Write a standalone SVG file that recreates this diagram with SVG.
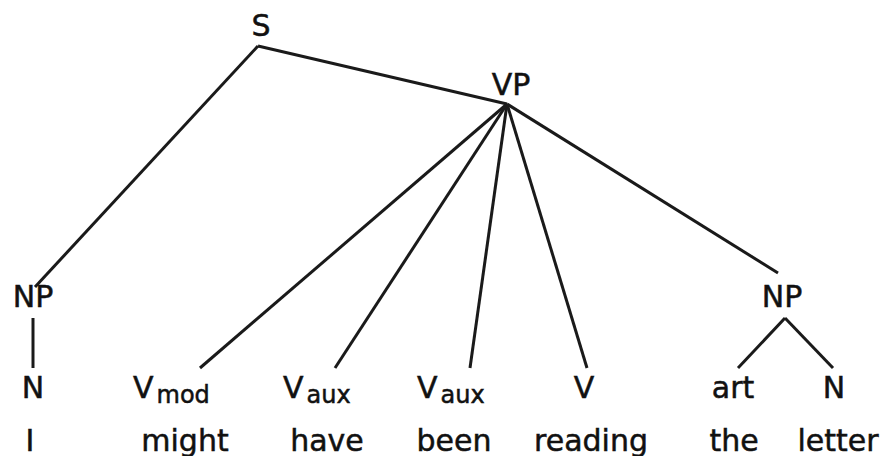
<svg xmlns="http://www.w3.org/2000/svg" width="883" height="456" viewBox="0 0 883 456">
<style>
text{font-family:"DejaVu Sans","Liberation Sans",sans-serif;font-size:30px;fill:#111;stroke:#111;stroke-width:0.5}
.m{text-anchor:middle}
.sub{font-size:24px}
.e{stroke:#1a1a1a;stroke-width:3;fill:none;stroke-linecap:butt}
</style>
<rect width="883" height="456" fill="#fff"/>
<g id="edges">
<line class="e" x1="258" y1="46" x2="507" y2="104"/>
<line class="e" x1="258" y1="46" x2="35" y2="287"/>
<line class="e" x1="33" y1="318" x2="33" y2="368"/>
<line class="e" x1="507" y1="104" x2="200" y2="368"/>
<line class="e" x1="507" y1="104" x2="335" y2="368"/>
<line class="e" x1="507" y1="104" x2="470" y2="368"/>
<line class="e" x1="507" y1="104" x2="587" y2="368"/>
<line class="e" x1="507" y1="104" x2="778" y2="273"/>
<line class="e" x1="785" y1="318" x2="738" y2="368"/>
<line class="e" x1="785" y1="318" x2="833" y2="368"/>
</g>
<g id="S"><text class="m" x="261" y="36">S</text></g>
<g id="VP"><text class="m" x="511" y="95">VP</text></g>
<g id="NP1"><text class="m" x="33" y="307">NP</text></g>
<g id="N1"><text class="m" x="33" y="398">N</text></g>
<g id="Vmod"><text x="133" y="398">V<tspan class="sub" dx="3" dy="5">mod</tspan></text></g>
<g id="Vaux1"><text x="283" y="398">V<tspan class="sub" dx="3" dy="5">aux</tspan></text></g>
<g id="Vaux2"><text x="417" y="398">V<tspan class="sub" dx="3" dy="5">aux</tspan></text></g>
<g id="V"><text class="m" x="584" y="398">V</text></g>
<g id="NP2"><text class="m" x="782" y="307">NP</text></g>
<g id="art"><text class="m" x="733" y="398">art</text></g>
<g id="N2"><text class="m" x="834" y="398">N</text></g>
<g id="w-I"><text class="m" x="30" y="451">I</text></g>
<g id="w-might"><text class="m" x="185" y="451">might</text></g>
<g id="w-have"><text class="m" x="327" y="451">have</text></g>
<g id="w-been"><text class="m" x="454" y="451">been</text></g>
<g id="w-reading"><text class="m" x="591" y="451">reading</text></g>
<g id="w-the"><text class="m" x="734" y="451">the</text></g>
<g id="w-letter"><text class="m" x="838" y="451">letter</text></g>
</svg>
